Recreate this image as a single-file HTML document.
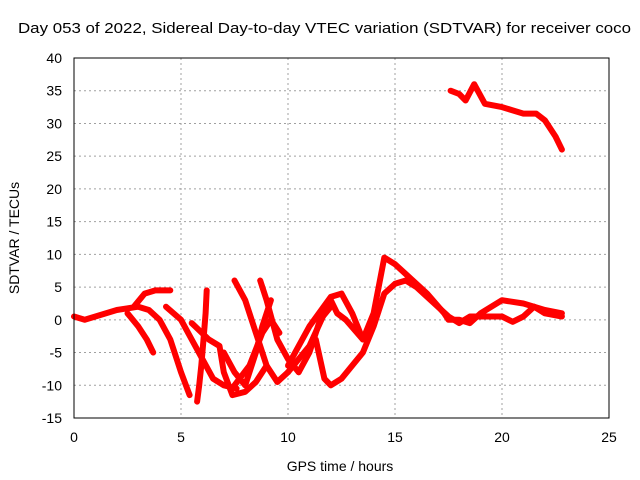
<!DOCTYPE html>
<html><head><meta charset="utf-8"><style>
body{margin:0;background:#fff;}
svg{display:block;font-family:"Liberation Sans",sans-serif;}
</style></head><body>
<svg id="chart" width="640" height="480">
<text x="18" y="33" font-size="15" textLength="613" lengthAdjust="spacingAndGlyphs">Day 053 of 2022, Sidereal Day-to-day VTEC variation (SDTVAR) for receiver coco</text>
<text x="340" y="471" font-size="14" text-anchor="middle">GPS time / hours</text>
<text transform="translate(19,238) rotate(-90)" font-size="14" text-anchor="middle">SDTVAR / TECUs</text>
<g id="grid"></g><g id="ticks"></g><g id="series"></g>
<rect x="74" y="58" width="535" height="360" fill="none" stroke="#000" stroke-width="1"/>
</svg>
<script>
const xTicks=[0,5,10,15,20,25];
const yTicks=[40,35,30,25,20,15,10,5,0,-5,-10,-15];
const s1=[[17.6,35],[18,34.5],[18.3,33.5],[18.7,36],[19.2,33],[20,32.5],[20.5,32],[21,31.5],[21.6,31.5],[22,30.5],[22.5,28],[22.8,26]];
const s2=[[0,0.5],[0.5,0],[1,0.5],[2,1.5],[3,2],[3.5,1.5],[4,0],[4.5,-3],[5,-8],[5.4,-11.5]];
const s3=[[2.5,1],[3,-1],[3.4,-3],[3.7,-5]];
const s4=[[2.8,2],[3.3,4],[3.8,4.5],[4.5,4.5]];
const s5=[[4.3,2],[5,0],[5.5,-3],[6,-6],[6.5,-9],[7,-10],[7.6,-10.5]];
const s6=[[6.2,4.5],[6.15,1],[6.05,-3],[5.95,-7],[5.85,-10],[5.75,-12.5]];
const s7=[[5.5,-0.5],[6.3,-3],[6.8,-4],[7,-8],[7.4,-11.5],[8,-11],[8.5,-9.5],[9,-7]];
const s8=[[7.5,6],[8,3],[8.5,-2],[9,-7],[9.5,-9.5],[10,-8]];
const s9=[[8.7,6],[9,3],[9.5,-3],[10,-6],[10.5,-8]];
const s10=[[7,-5],[7.5,-8],[8,-10],[8.5,-5],[8.8,-1],[9.2,3]];
const s11=[[7.5,-10],[8.2,-7],[8.8,-2],[9.2,0],[9.6,-2]];
const s12=[[10,-8],[11,-4],[11.7,1],[12,3],[12.3,1],[12.7,0],[13.5,-3],[14,1],[14.5,9.5],[15,8.5],[15.5,7],[16.5,4],[17.3,1],[17.5,0],[18,0],[18.5,-0.5],[19,1],[20,3],[21,2.5],[22,1.5],[22.8,1]];
const s13=[[11.3,-3],[11.7,-9],[12,-10],[12.5,-9],[13.5,-5],[14,-1],[14.5,4],[15,5.5],[15.5,6],[16,5],[17,2],[17.5,0.5],[18,-0.5],[18.5,0.5],[19,0.5],[20,0.5],[20.5,-0.3],[21,0.5],[21.5,2],[22,1],[22.8,0.5]];
const s14=[[10,-7],[11,-1],[12,3.5],[12.5,4],[13,1],[13.5,-3]];
const s15=[[10.5,-8],[11,-5],[11.5,0],[12,2]];
const allSeries=[s1,s2,s3,s4,s5,s6,s7,s8,s9,s10,s11,s12,s13,s14,s15];
const NS='http://www.w3.org/2000/svg';
function X(h){return 74+h*535/25;}
function Y(v){return 58+(40-v)*360/55;}
const grid=document.getElementById('grid'),ticks=document.getElementById('ticks'),ser=document.getElementById('series');
xTicks.forEach(t=>{
 const x=X(t);
 if(t>0&&t<25){const l=document.createElementNS(NS,'line');
 l.setAttribute('x1',x);l.setAttribute('x2',x);l.setAttribute('y1',58);l.setAttribute('y2',418);
 l.setAttribute('stroke','#a0a0a0');l.setAttribute('stroke-dasharray','2,3');
 
 
 grid.appendChild(l);}
 const tx=document.createElementNS(NS,'text');
 tx.setAttribute('x',x);tx.setAttribute('y',442);tx.setAttribute('font-size','14');tx.setAttribute('text-anchor','middle');
 tx.textContent=t;
 
 
 ticks.appendChild(tx);
});
yTicks.forEach(t=>{
 const y=Y(t);
 if(t>-15&&t<40){const l=document.createElementNS(NS,'line');
 l.setAttribute('x1',74);l.setAttribute('x2',609);l.setAttribute('y1',y);l.setAttribute('y2',y);
 l.setAttribute('stroke','#a0a0a0');l.setAttribute('stroke-dasharray','2,3');
 
 
 grid.appendChild(l);}
 const tx=document.createElementNS(NS,'text');
 tx.setAttribute('x',62);tx.setAttribute('y',y+5);tx.setAttribute('font-size','14');tx.setAttribute('text-anchor','end');
 tx.textContent=t;
 
 
 ticks.appendChild(tx);
});
allSeries.forEach((s,i)=>{
 const p=document.createElementNS(NS,'polyline');
 p.setAttribute('points',s.map(d=>X(d[0]).toFixed(1)+','+Y(d[1]).toFixed(1)).join(' '));
 p.setAttribute('fill','none');p.setAttribute('stroke','#ff0000');p.setAttribute('stroke-width','6');
 p.setAttribute('stroke-linejoin','round');p.setAttribute('stroke-linecap','round');
 
 
 ser.appendChild(p);
});
</script>
</body></html>
